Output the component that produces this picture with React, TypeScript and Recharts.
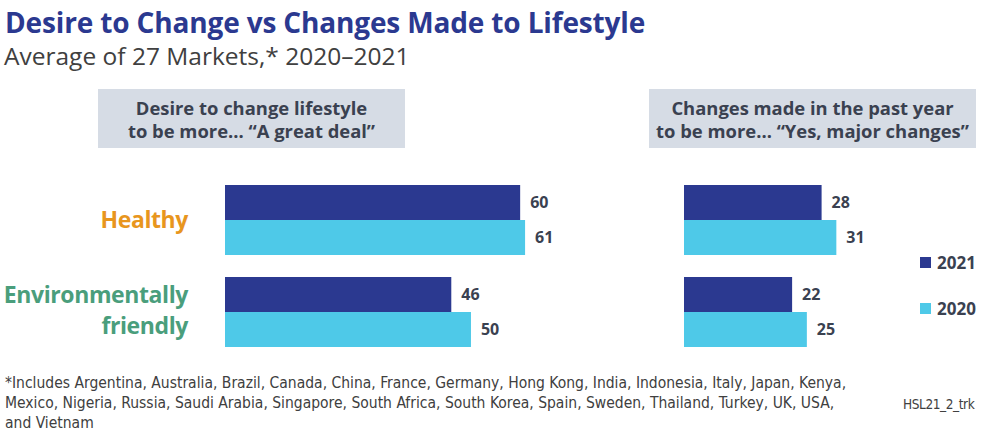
import { BarChart, Bar, XAxis, YAxis, LabelList } from "recharts";

const categories = ["Healthy", "Environmentally friendly"];
const categoryColors = ["#e8961e", "#4a9e7c"];
const desire2021 = [60, 46];
const desire2020 = [61, 50];
const changes2021 = [28, 22];
const changes2020 = [31, 25];
const seriesNames = ["2021", "2020"];

const NAVY = "#2b3990";
const CYAN = "#4ec9e8";
const TEXT = "#3a4150";
const FONT = "'Open Sans', 'Noto Sans', sans-serif";
const NARROW = "'Liberation Sans Narrow', 'DejaVu Sans Condensed', sans-serif";

const desireData = categories.map((c, i) => ({ name: c, y2021: desire2021[i], y2020: desire2020[i] }));
const changesData = categories.map((c, i) => ({ name: c, y2021: changes2021[i], y2020: changes2020[i] }));

function CategoryTick(props: any) {
  const { y, payload, index } = props;
  const color = categoryColors[index] ?? TEXT;
  const words: string[] = payload.value === "Environmentally friendly" ? ["Environmentally", "friendly"] : [payload.value];
  const start = words.length === 1 ? 8 : -9;
  return (
    <text x={188} y={y} textAnchor="end" fill={color} fontFamily={FONT} fontWeight={700} fontSize={23} letterSpacing={-0.4}>
      {words.map((w, i) => (
        <tspan key={w} x={188} y={y + start + i * 31}>
          {w}
        </tspan>
      ))}
    </text>
  );
}

const labelStyle = { fill: TEXT, fontFamily: FONT, fontWeight: 700, fontSize: 16 };

function HeaderBox({ left, width, lines }: { left: number; width: number; lines: string[] }) {
  return (
    <div
      style={{
        position: "absolute",
        left,
        top: 89,
        width,
        height: 59,
        background: "#d6dce5",
        color: TEXT,
        fontFamily: FONT,
        fontWeight: 700,
        fontSize: 18.4,
        lineHeight: "23px",
        textAlign: "center",
        display: "flex",
        flexDirection: "column",
        justifyContent: "center",
        whiteSpace: "nowrap",
      }}
    >
      {lines.map((l) => (
        <div key={l}>{l}</div>
      ))}
    </div>
  );
}

export default function App() {
  return (
    <div style={{ position: "absolute", left: 0, top: 0, width: 1000, height: 433, background: "#fff", overflow: "hidden" }}>
      <div style={{ position: "absolute", left: 5, top: 3, fontFamily: FONT, fontWeight: 700, fontSize: 28, color: NAVY, letterSpacing: -0.15, whiteSpace: "nowrap" }}>
        Desire to Change vs Changes Made to Lifestyle
      </div>
      <div style={{ position: "absolute", left: 4, top: 39, fontFamily: FONT, fontSize: 24.5, color: "#404040", whiteSpace: "nowrap" }}>
        Average of 27 Markets,* 2020–2021
      </div>

      <HeaderBox left={98} width={307} lines={["Desire to change lifestyle", "to be more… “A great deal”"]} />
      <HeaderBox left={649} width={327} lines={["Changes made in the past year", "to be more… “Yes, major changes”"]} />

      <div style={{ position: "absolute", left: 0, top: 174 }}>
        <BarChart width={560} height={184} data={desireData} layout="vertical" margin={{ top: 0, right: 30, bottom: 0, left: 0 }} barGap={0} barSize={35}>
          <XAxis type="number" domain={[0, 62]} hide />
          <YAxis type="category" dataKey="name" width={225} axisLine={false} tickLine={false} tick={CategoryTick} />
          <Bar dataKey="y2021" fill={NAVY} isAnimationActive={false}>
            <LabelList dataKey="y2021" position="right" offset={10} style={labelStyle} />
          </Bar>
          <Bar dataKey="y2020" fill={CYAN} isAnimationActive={false}>
            <LabelList dataKey="y2020" position="right" offset={10} style={labelStyle} />
          </Bar>
        </BarChart>
      </div>

      <div style={{ position: "absolute", left: 684, top: 174 }}>
        <BarChart width={212} height={184} data={changesData} layout="vertical" margin={{ top: 0, right: 40, bottom: 0, left: 0 }} barGap={0} barSize={35}>
          <XAxis type="number" domain={[0, 35]} hide />
          <YAxis type="category" dataKey="name" hide />
          <Bar dataKey="y2021" fill={NAVY} isAnimationActive={false}>
            <LabelList dataKey="y2021" position="right" offset={10} style={labelStyle} />
          </Bar>
          <Bar dataKey="y2020" fill={CYAN} isAnimationActive={false}>
            <LabelList dataKey="y2020" position="right" offset={10} style={labelStyle} />
          </Bar>
        </BarChart>
      </div>

      <div style={{ position: "absolute", left: 920, top: 250, fontFamily: FONT, fontWeight: 700, fontSize: 17, color: TEXT }}>
        {seriesNames.map((s, i) => (
          <div key={s} style={{ display: "flex", alignItems: "center", height: 24, marginBottom: i === 0 ? 22 : 0 }}>
            <span style={{ width: 11, height: 11, background: i === 0 ? NAVY : CYAN, marginRight: 6 }} />
            {s}
          </div>
        ))}
      </div>

      <div style={{ position: "absolute", left: 5, top: 373, width: 880, fontFamily: NARROW, fontSize: 15.5, lineHeight: "20px", color: "#404040", whiteSpace: "nowrap" }}>
        *Includes Argentina, Australia, Brazil, Canada, China, France, Germany, Hong Kong, India, Indonesia, Italy, Japan, Kenya,
        <br />
        Mexico, Nigeria, Russia, Saudi Arabia, Singapore, South Africa, South Korea, Spain, Sweden, Thailand, Turkey, UK, USA,
        <br />
        and Vietnam
      </div>
      <div style={{ position: "absolute", left: 903, top: 394, fontFamily: NARROW, fontSize: 13.5, letterSpacing: -0.4, lineHeight: "20px", color: "#404040" }}>
        HSL21_2_trk
      </div>
    </div>
  );
}
